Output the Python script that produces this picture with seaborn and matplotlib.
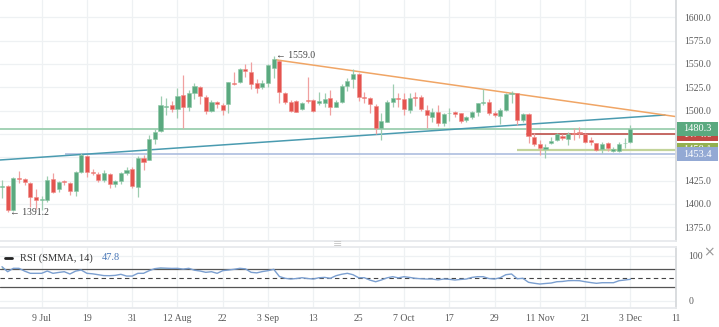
import matplotlib
matplotlib.use("Agg")
import matplotlib.pyplot as plt
import seaborn as sns
import numpy as np
from matplotlib.lines import Line2D
from matplotlib.patches import Rectangle
from matplotlib.transforms import blended_transform_factory
from matplotlib.ticker import FormatStrFormatter

# ---- daily OHLC data ----
opens = [1418.5, 1419.3, 1393.6, 1428.2, 1426.8, 1422.2, 1407.8, 1404.3, 1404.3, 1426.4,
         1415.7, 1424.1, 1422.2, 1413.9, 1433.9, 1451.7, 1434.6, 1432.1, 1425.7, 1431.8,
         1421.1, 1424.9, 1432.9, 1437.5, 1418.5, 1448.9, 1447.1, 1469.3, 1478.2, 1503.6,
         1506.0, 1501.8, 1516.4, 1503.6, 1518.6, 1525.3, 1514.9, 1500.0, 1509.6, 1506.0,
         1507.1, 1529.9, 1531.0, 1544.3, 1541.1, 1529.3, 1525.0, 1529.3, 1545.4, 1553.5,
         1518.6, 1509.6, 1510.6, 1502.1, 1511.4, 1511.4, 1508.5, 1508.5, 1513.2, 1504.2,
         1509.6, 1526.4, 1533.6, 1539.3, 1514.3, 1513.2, 1505.3, 1481.7, 1488.1, 1508.9,
         1513.9, 1512.1, 1500.7, 1514.9, 1514.9, 1500.7, 1493.5, 1498.9, 1487.1, 1497.1,
         1498.2, 1497.1, 1490.0, 1492.9, 1498.2, 1508.5, 1509.6, 1497.1, 1494.6, 1500.7,
         1517.5, 1518.6, 1490.0, 1496.4, 1472.1, 1463.9, 1458.9, 1465.0, 1468.5, 1473.2,
         1469.6, 1475.7, 1477.4, 1474.6, 1468.5, 1465.0, 1458.6, 1465.7, 1457.1, 1457.1,
         1465.0, 1466.7]
highs = [1425.7, 1420.5, 1428.9, 1435.6, 1427.5, 1423.9, 1416.0, 1408.5, 1430.0, 1432.9,
         1424.6, 1425.7, 1423.9, 1435.6, 1454.9, 1452.5, 1437.1, 1434.6, 1436.4, 1432.9,
         1425.7, 1434.6, 1439.3, 1439.9, 1451.4, 1452.5, 1473.9, 1480.0, 1515.7, 1513.2,
         1510.3, 1523.9, 1538.2, 1522.1, 1529.9, 1526.4, 1516.8, 1511.4, 1510.3, 1507.9,
         1531.0, 1541.7, 1545.4, 1550.0, 1552.4, 1533.6, 1532.8, 1550.0, 1559.0, 1554.0,
         1520.3, 1511.4, 1511.4, 1509.6, 1536.4, 1512.5, 1520.3, 1518.6, 1522.1, 1511.4,
         1528.5, 1534.6, 1544.3, 1540.6, 1520.3, 1514.3, 1506.8, 1497.8, 1511.4, 1528.5,
         1519.2, 1518.6, 1518.6, 1520.3, 1516.8, 1506.0, 1502.5, 1506.0, 1497.8, 1502.5,
         1500.0, 1497.8, 1494.3, 1500.0, 1508.5, 1522.9, 1512.1, 1500.0, 1502.5, 1519.2,
         1521.0, 1519.2, 1497.8, 1497.8, 1476.4, 1468.5, 1464.3, 1472.1, 1476.4, 1475.0,
         1477.4, 1481.0, 1482.1, 1476.4, 1472.1, 1465.7, 1466.7, 1466.7, 1461.4, 1466.7,
         1470.4, 1484.6]
lows = [1406.4, 1391.2, 1392.4, 1422.2, 1420.3, 1396.8, 1394.6, 1393.6, 1402.1, 1411.4,
        1413.2, 1420.3, 1409.6, 1408.5, 1432.9, 1429.2, 1431.0, 1423.9, 1423.9, 1416.8,
        1418.5, 1421.4, 1431.0, 1416.8, 1407.1, 1436.4, 1446.6, 1464.3, 1477.4, 1495.3,
        1498.9, 1491.8, 1481.7, 1500.0, 1512.1, 1506.8, 1496.1, 1498.9, 1502.5, 1495.3,
        1497.1, 1527.5, 1529.3, 1536.4, 1522.9, 1518.6, 1522.9, 1525.7, 1534.6, 1507.9,
        1507.1, 1498.5, 1498.2, 1500.7, 1508.5, 1498.5, 1506.0, 1504.2, 1495.3, 1503.6,
        1508.5, 1521.4, 1523.9, 1510.6, 1508.5, 1497.1, 1475.0, 1468.5, 1487.5, 1504.2,
        1504.2, 1495.3, 1497.8, 1505.0, 1500.0, 1481.0, 1488.1, 1483.9, 1483.5, 1489.2,
        1492.9, 1487.1, 1488.1, 1490.7, 1494.3, 1506.0, 1495.3, 1492.9, 1485.4, 1500.0,
        1508.5, 1484.6, 1488.1, 1465.0, 1462.1, 1452.5, 1448.9, 1464.3, 1467.8, 1468.5,
        1463.2, 1468.5, 1470.4, 1465.7, 1463.2, 1457.1, 1454.3, 1456.8, 1456.0, 1456.0,
        1459.6, 1465.0]
closes = [1419.6, 1393.6, 1427.8, 1427.1, 1423.2, 1407.8, 1404.3, 1405.7, 1425.7, 1413.2,
          1423.9, 1423.0, 1413.9, 1434.2, 1452.8, 1433.9, 1432.9, 1425.7, 1432.9, 1421.1,
          1424.6, 1433.5, 1436.4, 1419.3, 1448.9, 1445.3, 1469.3, 1477.4, 1506.0, 1505.3,
          1501.8, 1515.7, 1504.2, 1519.2, 1526.4, 1515.7, 1499.6, 1509.6, 1506.8, 1500.7,
          1530.4, 1528.5, 1544.3, 1542.5, 1528.2, 1523.9, 1529.9, 1548.9, 1555.0, 1520.3,
          1509.6, 1499.6, 1498.9, 1507.9, 1510.3, 1499.6, 1510.6, 1512.1, 1503.6, 1508.9,
          1526.4, 1532.1, 1539.3, 1514.9, 1513.2, 1506.8, 1481.7, 1488.9, 1509.6, 1513.9,
          1512.1, 1501.4, 1513.9, 1513.2, 1501.8, 1495.3, 1498.9, 1487.1, 1496.4, 1497.8,
          1496.4, 1489.2, 1492.9, 1498.2, 1507.9, 1509.6, 1497.1, 1495.3, 1500.7, 1517.8,
          1519.2, 1490.0, 1496.4, 1472.8, 1464.3, 1459.6, 1461.4, 1467.8, 1474.6, 1471.0,
          1474.6, 1475.0, 1476.4, 1466.7, 1466.1, 1457.8, 1464.3, 1459.6, 1458.9, 1464.3,
          1465.7, 1480.3]

# RSI (SMMA, 14)
rsi = [75.8, 64.7, 72.2, 72.2, 66.0, 61.1, 61.1, 61.1, 66.2, 61.1,
       63.0, 64.7, 59.6, 66.0, 68.4, 61.1, 60.0, 58.0, 56.0, 55.8,
       56.5, 58.9, 55.0, 55.0, 61.1, 61.1, 67.0, 71.5, 73.0, 72.5,
       72.0, 72.2, 70.5, 72.2, 68.0, 66.2, 63.3, 64.7, 61.1, 67.0,
       68.4, 70.0, 72.2, 71.0, 63.3, 62.1, 65.0, 67.0, 70.0, 54.0,
       50.0, 48.4, 49.5, 51.3, 49.5, 48.4, 51.3, 52.0, 50.0, 55.8,
       59.0, 61.1, 58.0, 51.3, 51.3, 46.0, 42.4, 46.2, 51.0, 53.6,
       51.0, 53.6, 52.0, 50.0, 49.0, 48.4, 48.4, 46.5, 48.4, 47.8,
       46.2, 47.5, 48.4, 52.0, 53.6, 53.6, 49.5, 48.4, 51.3, 58.0,
       59.6, 49.0, 50.0, 41.1, 39.0, 37.3, 38.5, 39.5, 42.4, 43.0,
       44.7, 45.0, 44.7, 42.4, 40.5, 38.9, 40.2, 40.2, 40.2, 44.7,
       46.2, 47.8]

tick_labels = ["9 Jul", "19", "31", "12 Aug", "22", "3 Sep", "13", "25",
               "7 Oct", "17", "29", "11 Nov", "21", "3 Dec", "11"]

# drawn levels and trendlines (x = bar index, y = price)
resistance_level = 1474.6
support_level = 1458.1
base_level = 1453.4
down_trend_x = [48.5, 118.9]
down_trend_y = [1554.3, 1493.7]
up_trend_x = [-0.35, 117.1]
up_trend_y = [1447.1, 1495.3]

# ---- style ----
sns.set_theme(style="white")
plt.rcParams["font.family"] = ["Liberation Serif", "DejaVu Sans"]

GREEN = "#5aa97f"
GREEN_WICK = "#9dcdb0"
RED = "#e4544f"
RED_WICK = "#f0a0a0"
GRID = "#eef1f3"
TXT = "#5a5a5a"

W, H = 719, 327
fig = plt.figure(figsize=(W / 100, H / 100), dpi=100)
ax = fig.add_axes([0, 86 / H, 676 / W, 241 / H])
rax = fig.add_axes([0, 19 / H, 676 / W, 61 / H])

o = np.array(opens); h = np.array(highs); l = np.array(lows); c = np.array(closes)
x = np.arange(len(o))
up = c >= o
bottom = np.minimum(o, c)
height = np.maximum(np.abs(c - o), 0.7)

xlim = (-0.35, 119.05)
tick_pos = 7 + 8 * np.arange(len(tick_labels))

# ---- main price panel ----
ax.vlines(x[up], l[up], h[up], color=GREEN_WICK, lw=0.9, zorder=3)
ax.vlines(x[~up], l[~up], h[~up], color=RED_WICK, lw=0.9, zorder=3)
ax.bar(x[up], height[up], bottom=bottom[up], width=0.72, color=GREEN,
       edgecolor="#8cc7a6", linewidth=0.4, zorder=4)
ax.bar(x[~up], height[~up], bottom=bottom[~up], width=0.72, color=RED,
       edgecolor="#f08c88", linewidth=0.4, zorder=4)

last_price = closes[-1]
ax.axhline(last_price, color="#a3d2b5", lw=1.4, zorder=2)
ax.hlines(resistance_level, 92.6, xlim[1], color="#b8413b", lw=1.1, zorder=2)
ax.hlines(support_level, 90.9, xlim[1], color="#c3d49b", lw=1.6, zorder=2)
ax.hlines(base_level, 11.1, xlim[1], color="#a5b8dc", lw=1.1, zorder=2)
sns.lineplot(x=up_trend_x, y=up_trend_y, ax=ax, color="#4a9bb0", lw=1.1, zorder=2)
sns.lineplot(x=down_trend_x, y=down_trend_y, ax=ax, color="#f0a565", lw=1.1, zorder=2)

hi_i = int(np.argmax(h)); lo_i = int(np.argmin(l))
ax.text(hi_i + 0.45, h[hi_i], "\u2190 " + f"{h[hi_i]:.1f}", ha="left", va="center",
        fontsize=7, color="#444444", zorder=6)
ax.text(lo_i + 0.5, l[lo_i], "\u2190 " + f"{l[lo_i]:.1f}", ha="left", va="center",
        fontsize=7, color="#444444", zorder=6)

ax.set_xlim(*xlim)
ax.set_ylim(1360.3, 1618.5)
ax.set_xticks(tick_pos)
ax.set_xticklabels([])
ax.set_yticks(np.arange(1375, 1601, 25))
ax.yaxis.set_major_formatter(FormatStrFormatter("%.1f"))
ax.yaxis.tick_right()
ax.tick_params(axis="y", length=0, pad=6, labelsize=7, labelcolor=TXT)
ax.tick_params(axis="x", length=0)
ax.grid(True, color=GRID, lw=0.9)
for s in ["top", "left"]:
    ax.spines[s].set_visible(False)
ax.spines["right"].set_color("#d5d8db")
ax.spines["bottom"].set_color("#e6e9ec")

# price tags on the right axis, stacked so later tags cover earlier ones
tr = blended_transform_factory(fig.transFigure, ax.transData)
box_h = 14.2
tags = [(resistance_level, "#c04a44"), (support_level, "#93b050"),
        (last_price, "#5aa97f"), (base_level, "#93a9d4")]
for k, (val, col) in enumerate(tags):
    z = 10 + 2 * k
    ax.add_patch(Rectangle((677 / W, val - box_h / 2), 41 / W, box_h, transform=tr,
                           facecolor=col, edgecolor="none", clip_on=False, zorder=z))
    ax.text(697.5 / W, val, f"{val:.1f}", transform=tr, ha="center", va="center",
            fontsize=7.5, color="white", zorder=z + 1, clip_on=False)

# ---- RSI panel ----
r = np.array(rsi)
rax.fill_between(x, r, 70, where=r > 70, interpolate=True, color="#9fdc9f",
                 alpha=0.8, lw=0, zorder=2)
sns.lineplot(x=x, y=r, ax=rax, color="#7b9fd0", lw=1.0, zorder=3)
rax.axhline(70, color="#555555", lw=0.9, zorder=2)
rax.axhline(30, color="#555555", lw=0.9, zorder=2)
rax.axhline(50, color="#444444", lw=0.8, ls=(0, (4, 3)), zorder=2)
rax.set_xlim(*xlim)
rax.set_ylim(-16, 119.6)
rax.set_yticks([0, 100])
rax.yaxis.tick_right()
rax.tick_params(axis="y", length=0, pad=9, labelsize=7, labelcolor=TXT)
rax.set_xticks(tick_pos)
rax.set_xticklabels(tick_labels)
rax.tick_params(axis="x", length=0, pad=4, labelsize=7, labelcolor=TXT)
rax.grid(True, color=GRID, lw=0.9)
rax.set_xlabel(""); rax.set_ylabel("")
rax.spines["left"].set_visible(False)
rax.spines["right"].set_color("#d5d8db")
for s in ["top", "bottom"]:
    rax.spines[s].set_color("#e6e9ec")

# RSI legend
ly = 1 - 258 / H
fig.add_artist(Line2D([5 / W, 12 / W], [ly, ly], color="#222222", lw=2))
fig.text(20 / W, ly, "RSI (SMMA, 14)", ha="left", va="center", fontsize=7.5, color="#333333")
fig.text(102 / W, ly, f"{rsi[-1]:.1f}", ha="left", va="center", fontsize=7.5, color="#4a78b8")
fig.text(338 / W, 1 - 244 / H, "\u2261", ha="center", va="center", fontsize=8,
         color="#c8c8c8", family=["DejaVu Sans"])
fig.text(709 / W, 1 - 252 / H, "\u00d7", ha="center", va="center", fontsize=10,
         color="#999999", family=["DejaVu Sans"])

fig.savefig("out.png", dpi=100, facecolor="white")
